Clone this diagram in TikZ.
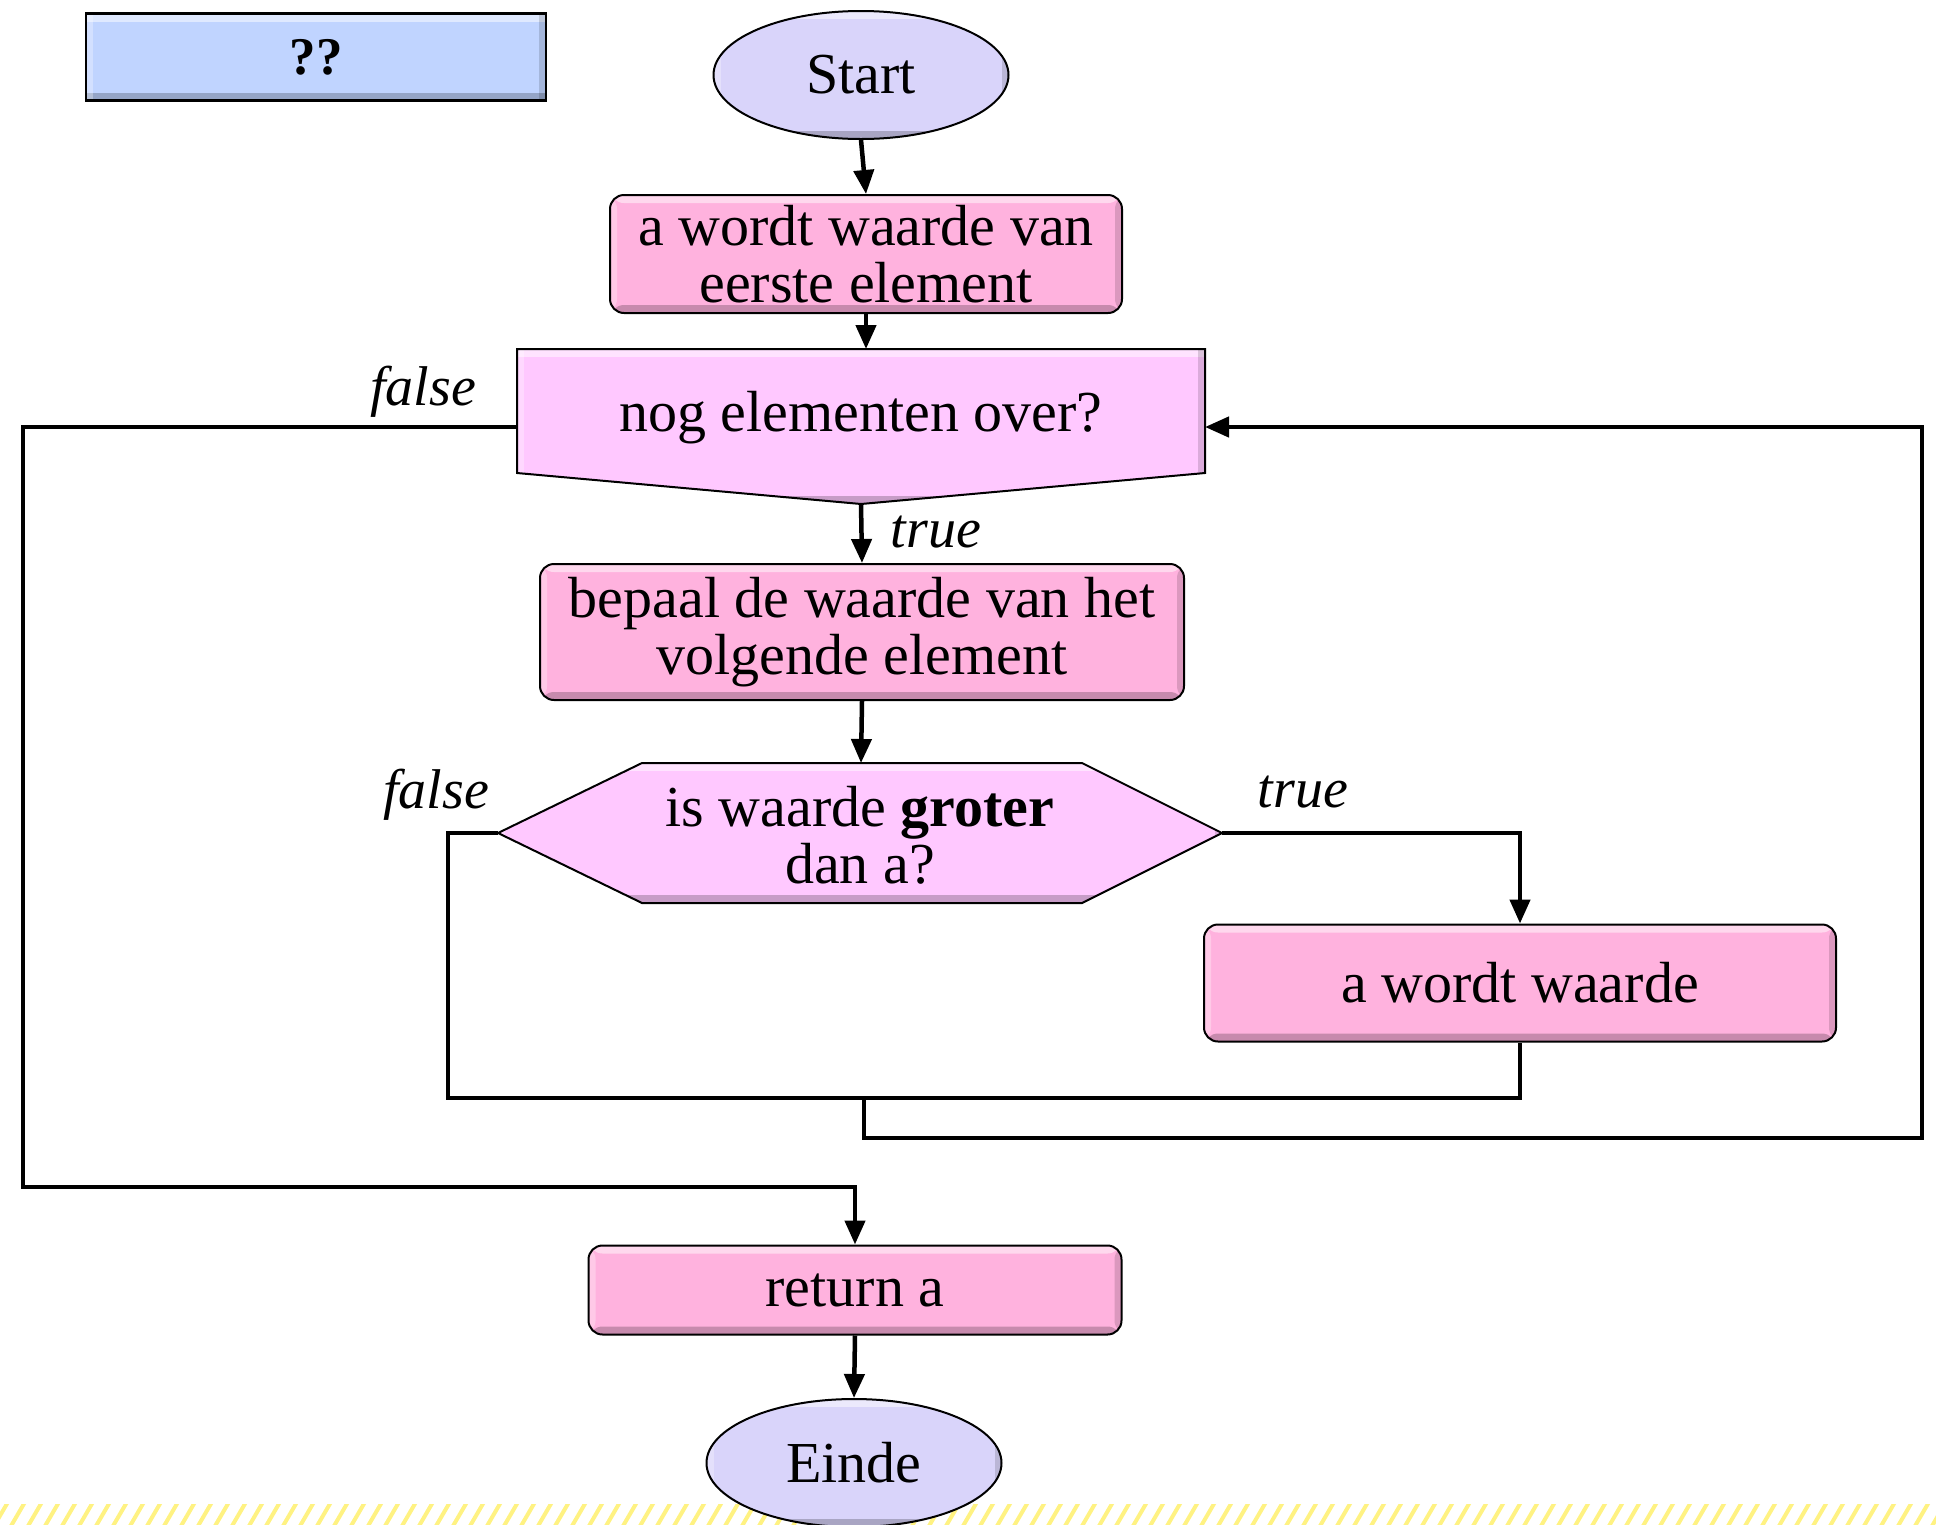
\documentclass[tikz,border=0pt]{standalone}
\usepackage{fontspec}
\setmainfont{Liberation Serif}
\usetikzlibrary{arrows.meta,shapes.geometric,calc,backgrounds}
\definecolor{ovalfill}{RGB}{217,212,250}
\definecolor{boxfill}{RGB}{255,178,222}
\definecolor{decfill}{RGB}{255,200,255}
\definecolor{qfill}{RGB}{192,212,255}
\definecolor{hatchcol}{RGB}{255,242,130}
\tikzset{
  base/.style={font=\fontsize{58}{57}\selectfont, align=center, inner sep=0pt},
  bevel/.style={path picture={
    \fill[white,opacity=0.5] (path picture bounding box.north west) rectangle ([yshift=-8pt]path picture bounding box.north east);
    \fill[black,opacity=0.22] ([yshift=8pt]path picture bounding box.south west) rectangle (path picture bounding box.south east);
    \fill[black,opacity=0.14] ([xshift=-7pt]path picture bounding box.north east) rectangle (path picture bounding box.south east);
    \fill[white,opacity=0.3] (path picture bounding box.north west) rectangle ([xshift=7pt]path picture bounding box.south west);
  }},
  oval/.style={base, ellipse, draw=black, line width=2pt, fill=ovalfill, minimum width=295pt, minimum height=128pt, bevel},
  procbox/.style={base, rectangle, rounded corners=14pt, draw=black, line width=2pt, fill=boxfill, bevel},
  dectext/.style={base, rectangle},
  decshape/.style={draw=black, line width=2pt, fill=decfill, bevel},
  qbox/.style={rectangle, draw=black, line width=2.5pt, fill=qfill, inner sep=0pt, minimum width=460pt, minimum height=87pt, font=\fontsize{53}{53}\selectfont\bfseries, bevel},
  conn/.style={line width=4.5pt},
  arr/.style={conn, -{Triangle[length=24pt,width=20pt]}},
  lbl/.style={font=\fontsize{56}{56}\selectfont\itshape, inner sep=0pt},
}
\begin{document}
\begin{tikzpicture}[x=1pt,y=-1pt]
\useasboundingbox (0,0) rectangle (1936,1524);
% hatch band
\begin{scope}
  \clip (0,1504) rectangle (1936,1524);
  \foreach \x in {-40,-23,...,1960} \draw[hatchcol, line width=4pt] (\x,1526) -- (\x+14,1502);
\end{scope}
\node[qbox] (q) at (316,57) {??};
\node[oval] (start) at (861,75) {Start};
\node[procbox, minimum width=512pt, minimum height=118pt] (b1) at (866,254) {a wordt waarde van\\eerste element};
\node[dectext, minimum width=688pt, minimum height=124pt] (d1) at (861,418) {nog elementen over?};
\coordinate (d1tip) at (861,504);
\coordinate (d1l) at (517,427);
\coordinate (d1r) at (1205,427);
\node[procbox, minimum width=644pt, minimum height=136pt] (b2) at (862,632) {bepaal de waarde van het\\volgende element};
\node[dectext, minimum width=724pt, minimum height=140pt] (d2) at (860,835) {is waarde \textbf{groter}\\dan a?};
\node[procbox, minimum width=632pt, minimum height=117pt] (b3) at (1520,983) {a wordt waarde};
\node[procbox, minimum width=533pt, minimum height=89pt] (ret) at (855,1290) {return a};
\node[oval] (einde) at (854,1463) {Einde};
\begin{scope}[on background layer]
  \draw[decshape] (517,349) -- (1205,349) -- (1205,473) -- (d1tip) -- (517,473) -- cycle;
  \draw[decshape] (498,833) -- (642,763) -- (1082,763) -- (1222,833) -- (1082,903) -- (642,903) -- cycle;
\end{scope}
\coordinate (d1top) at (866,349);
\coordinate (d2top) at (861,763);
\coordinate (d2l) at (498,833);
\coordinate (d2r) at (1222,833);
% connectors
\draw[arr] (start.south) -- (b1.north);
\draw[arr] (b1.south) -- (d1top);
\draw[arr] (d1tip) -- (b2.north);
\draw[arr] (b2.south) -- (d2top);
\draw[arr] (d2r) -| (b3.north);
\coordinate (m) at (864,1098);
\draw[conn] (d2l) -- ++(-50,0) |- (b3.south |- m) -- (b3.south);
\draw[arr] (m) -- ++(0,40) -| (1922,427) -- (d1r);
\draw[arr] (d1l) -| (23,1187) -| (ret.north);
\draw[arr] (ret.south) -- (einde.north);
% labels
\node[lbl] (lf1) at (423,392) {false};
\node[lbl] (lt1) at (936,532) {true};
\node[lbl] (lf2) at (436,795) {false};
\node[lbl] (lt2) at (1303,792) {true};
\end{tikzpicture}
\end{document}
